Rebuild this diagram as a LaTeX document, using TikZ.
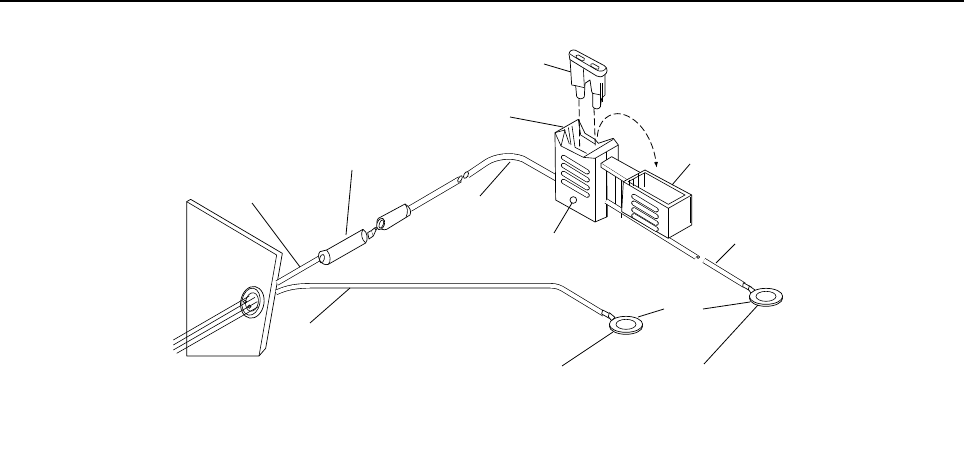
\documentclass[tikz,border=0pt]{standalone}
\usetikzlibrary{arrows}
\tikzset{part/.style={line width=.7pt,fill=white,line join=round},
line/.style={line width=.6pt},
leader/.style={line width=.8pt},
wire/.style={double=white,double distance=4pt,line width=.65pt},
thickwire/.style={double=white,double distance=5pt,line width=.65pt},
slot/.style={double=white,double distance=3.6pt,line width=.65pt,line cap=round},
guide/.style={line width=.8pt,dash pattern=on 7pt off 3pt}}
\begin{document}
\begin{tikzpicture}[x=1pt,y=-1pt]
\useasboundingbox (0,0) rectangle (964,465);
\draw[line width=1.6pt] (0,1) -- (964,1);

% wall and grommet
\begin{scope}[shift={(170,160)},scale=1/3]
\draw[part] (50,125) -- (62,118) -- (337,280) -- (287,565) -- (267,588) -- (50,588) -- cycle;
\draw[line] (50,125) -- (320,285) -- (267,588);
\draw[part,rotate around={-10:(247,427)}] (247,427) ellipse (35 and 48);
\draw[line,rotate around={-10:(243,425)}] (243,425) ellipse (27 and 41);
\draw[line,rotate around={-10:(246,426)}] (246,426) ellipse (19 and 28);
\draw[line] (10,540) -- (238,408);
\draw[line] (10,555) -- (255,412);
\draw[line] (10,570) -- (262,425);
\draw[line] (20,580) -- (265,440);
\draw[line] (225,425) circle (5);
\draw[line] (238,440) circle (5);
\end{scope}

% wires from wall
\draw[wire] (277,283) -- (320,258);
\draw[wire] (276,292.5) .. controls (288,287) and (297,285.7) .. (315,285.7) -- (550,285.7)
.. controls (556,285.7) and (560,287) .. (566,291) -- (604,314);

% plug
\begin{scope}[shift={(225,215)},scale=1/3]
\draw[part] (285,110) -- (305,105) -- (414,43) .. controls (428,50) and (430,75) .. (422,84)
-- (310,148) .. controls (290,155) and (272,125) .. (285,110);
\draw[line] (305,105) .. controls (318,120) and (318,140) .. (310,148);
\draw[line,rotate around={-15:(291,131)}] (291,131) ellipse (7 and 13);
\draw[line] (414,43) .. controls (406,55) and (410,75) .. (422,84);
\draw[part] (428,53) -- (440,46) -- (445,63) -- (432,72) -- cycle;
\draw[part] (440,46) -- (450,38) -- (453,45) -- (445,63);
\draw[part] (453,41) circle (4);
\end{scope}

% socket
\begin{scope}[shift={(360,160)},scale=1/3]
\draw[thickwire] (150,146) -- (300,58);
\draw[part,rotate around={-30:(300,57)}] (300,57) ellipse (5 and 11);
\draw[part] (55,175) -- (135,132) .. controls (150,140) and (155,155) .. (150,165) -- (80,208)
.. controls (60,215) and (42,190) .. (55,175);
\draw[line] (135,132) .. controls (143,143) and (145,155) .. (138,172);
\draw[part,rotate around={-20:(62,192)}] (62,192) ellipse (11 and 18);
\draw[line,rotate around={-20:(64,192)}] (64,192) ellipse (6 and 13);
\end{scope}
\draw[thickwire] (467.7,175) -- (487,162) .. controls (495,157) and (510,154) .. (523,159) -- (558,179);
\draw[part,rotate around={-30:(466,175)}] (466,175) ellipse (2 and 3.7);

% holder
\begin{scope}[shift={(550,110)},scale=1/3]
\draw[part] (15,68) -- (85,28) -- (105,70) -- (135,88) -- (145,100) -- (190,85) -- (205,105) -- (205,160)
-- (170,180) -- (172,320) -- (135,336) -- (17,270) -- cycle;
\draw[line] (15,68) -- (33,108) -- (100,142) -- (190,88);
\draw[line] (100,142) -- (135,145) -- (205,105);
\draw[line] (135,145) -- (135,336);
\draw[line] (168,125) -- (168,320);
\draw[line] (33,108) -- (45,60);
\draw[line] (15,68) -- (45,60);
\draw[line] (43,58) -- (58,102);
\draw[line] (55,52) -- (63,105);
\draw[line] (66,48) -- (75,112);
\draw[line] (85,28) -- (92,75) -- (135,102);
\draw[line] (75,112) -- (110,130);
\draw[slot] (40,142) -- (112,186);
\draw[slot] (40,166) -- (112,210);
\draw[slot] (40,190) -- (112,234);
\draw[slot] (40,214) -- (112,256);
\draw[part] (70,270) circle (10);
\draw[line] (197,165) -- (197,300);
\draw[line] (215,190) -- (215,325);
\draw[part] (153,160) -- (185,140) -- (275,190) -- (240,215) -- cycle;
\draw[line,fill=white] (153,160) -- (153,172) -- (232,222) -- (240,215);
\end{scope}

% lower wire
\draw[wire] (606,201) -- (696,257);
\draw[part] (698,257) circle (1.5);
\draw[wire] (704,260.5) -- (744,285);

% cover
\begin{scope}[shift={(490,40)},scale=1/3]
\draw[part] (400,425) -- (465,390) -- (605,465) -- (605,555) -- (535,595) -- (395,515) -- cycle;
\draw[line] (400,425) -- (535,505) -- (605,465);
\draw[line] (535,505) -- (535,595);
\draw[line] (415,425) -- (465,398) -- (585,465) -- (535,493) -- cycle;
\draw[line] (418,420) -- (418,435);
\draw[line] (445,400) -- (445,440);
\draw[line] (462,398) -- (462,442);
\draw[line] (430,418) -- (430,438);
\draw[slot] (431,469) -- (499,510);
\draw[slot] (431,489) -- (499,530);
\draw[slot] (431,509) -- (499,550);
\draw[slot] (431,527) -- (499,568);
\draw[line] (600,470) -- (600,550);
\end{scope}

% fuse
\begin{scope}[shift={(555,45)},scale=1/3]
\draw[part] (45,40) -- (50,120) -- (62,122) -- (65,155) .. controls (72,165) and (85,162) .. (88,155)
-- (90,115) -- (105,105) -- (110,140) -- (113,145) -- (113,185) .. controls (120,195) and (133,193) .. (136,185)
-- (140,160) -- (150,150) -- (150,85) -- cycle;
\draw[line] (85,70) -- (88,125);
\draw[line] (62,122) -- (88,128);
\draw[line] (113,145) -- (137,150);
\draw[line] (137,115) -- (137,185);
\draw[line] (143,115) -- (143,170);
\draw[part] (42,28) .. controls (42,18) and (52,12) .. (62,16) -- (148,62)
.. controls (160,70) and (158,85) .. (148,90) .. controls (140,97) and (133,97) .. (125,93) -- (45,44) -- cycle;
\draw[line] (44,26) .. controls (55,35) and (100,60) .. (125,75) .. controls (135,82) and (150,78) .. (154,68);
\draw[line] (70,30) -- (88,40) .. controls (92,45) and (84,50) .. (78,46) -- (64,38) .. controls (60,33) and (65,28) .. (70,30);
\draw[line] (114,56) -- (132,66) .. controls (136,71) and (128,76) .. (122,72) -- (108,64) .. controls (104,59) and (109,54) .. (114,56);
\end{scope}
\begin{scope}[shift={(490,40)},scale=1/3]
\draw[guide] (267,178) -- (269,325);
\draw[guide] (312,205) -- (316,320);
\draw[guide,-latex] (322,290) .. controls (325,240) and (360,215) .. (395,222)
.. controls (450,235) and (490,300) .. (500,382);
\end{scope}

% rings
\begin{scope}[shift={(550,230)},scale=1/3]
\draw[part] (580,158) -- (605,172) -- (600,182) -- (578,170) -- cycle;
\draw[part] (598,168) -- (615,180) -- (605,192) -- (595,178) -- cycle;
\draw[part] (648,204) ellipse (50 and 25);
\draw[part] (648,199) ellipse (50 and 24);
\draw[line] (648,199) ellipse (30 and 15);
\draw[part] (158,240) -- (183,253) -- (178,265) -- (155,252) -- cycle;
\draw[part] (178,248) -- (195,262) -- (185,272) -- (175,260) -- cycle;
\draw[part] (228,288) ellipse (50 and 25);
\draw[part] (228,283) ellipse (50 and 24);
\draw[line] (228,283) ellipse (30 and 15);
\end{scope}

% leaders
\draw[leader] (544,64) -- (571,72);
\draw[leader] (510,117) -- (563,127);
\draw[leader] (690,164) -- (672,185);
\draw[leader] (554,233) -- (572,203);
\draw[leader] (480,196) -- (510,162);
\draw[leader] (352,170) -- (346,235);
\draw[leader] (252,203) -- (300,267);
\draw[leader] (310,323) -- (350,288);
\draw[leader] (638,317) -- (664,309);
\draw[leader] (562,366) -- (613,332);
\draw[leader] (703,309) -- (750,302);
\draw[leader] (704,364) -- (758,305);
\draw[leader] (735,244) -- (716,263);
\end{tikzpicture}
\end{document}
